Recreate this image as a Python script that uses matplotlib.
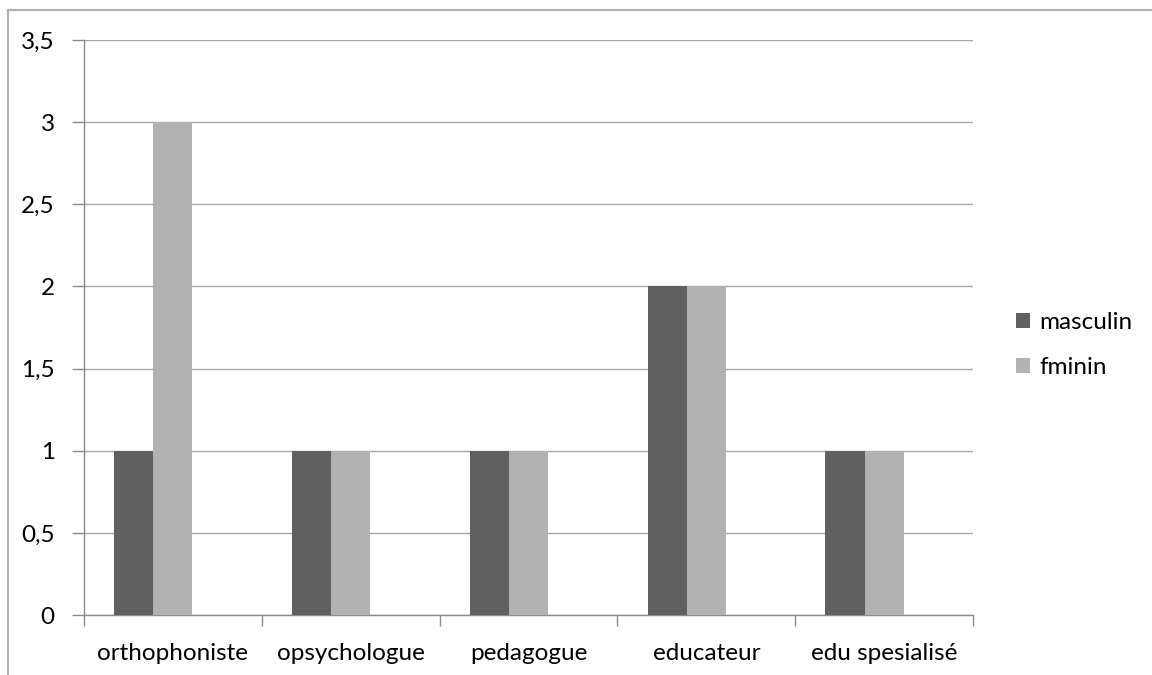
import matplotlib
matplotlib.use("Agg")
import matplotlib.pyplot as plt
from matplotlib.lines import Line2D
from matplotlib.patches import Patch
import numpy as np

categories = ["orthophoniste", "opsychologue", "pedagogue", "educateur", "edu spesialisé"]
masculin = [1, 1, 1, 2, 1]
fminin = [3, 1, 1, 2, 1]
series_names = ["masculin", "fminin"]
y_ticks = [0, 0.5, 1, 1.5, 2, 2.5, 3, 3.5]
y_tick_labels = ["0", "0,5", "1", "1,5", "2", "2,5", "3", "3,5"]

DARK = "#606060"
LIGHT = "#B2B2B2"
GRID = "#A6A6A6"
AXIS = "#8C8C8C"
FS = 17.5

plt.rcParams["font.family"] = ["Lato", "DejaVu Sans"]

fig = plt.figure(figsize=(11.52, 6.75), dpi=100)
ax = fig.add_axes([84 / 1152, 60 / 675, (973 - 84) / 1152, (615 - 40) / 675])

x = np.arange(len(categories))
w = 0.22
ax.bar(x - w, masculin, width=w, color=DARK, zorder=3)
ax.bar(x, fminin, width=w, color=LIGHT, zorder=3)

ax.set_xlim(-0.5, len(categories) - 0.5)
ax.set_ylim(0, 3.5)

ax.set_yticks(y_ticks)
ax.set_yticklabels(y_tick_labels)
ax.yaxis.grid(True, color=GRID, linewidth=1.0, zorder=0)
ax.set_axisbelow(True)

# category labels centred between boundary ticks
ax.set_xticks(np.arange(-0.5, len(categories), 1.0))
ax.set_xticklabels([])
ax.set_xticks(x, minor=True)
ax.set_xticklabels(categories, minor=True)
ax.tick_params(axis="x", which="minor", length=0, pad=20, labelsize=FS, colors="black")
ax.tick_params(axis="x", which="major", length=8, width=1, color=AXIS)
ax.tick_params(axis="y", length=9, width=1, color=AXIS, pad=12, labelsize=FS)

for side in ["top", "right"]:
    ax.spines[side].set_visible(False)
for side in ["left", "bottom"]:
    ax.spines[side].set_color(AXIS)
    ax.spines[side].set_linewidth(1)

handles = [Patch(facecolor=DARK, edgecolor="none"), Patch(facecolor=LIGHT, edgecolor="none")]
fig.legend(handles, series_names, loc="center left", bbox_to_anchor=(994 / 1152, 1 - 345 / 675),
           frameon=False, fontsize=FS, handlelength=0.6, handleheight=0.6,
           handletextpad=0.35, labelspacing=1.0)

# chart frame
fig.add_artist(Line2D([8 / 1152, 1.0], [1 - 9.5 / 675, 1 - 9.5 / 675], color="#B0B0B0", linewidth=1.5))
fig.add_artist(Line2D([8 / 1152, 8 / 1152], [0.0, 1 - 9.5 / 675], color="#B0B0B0", linewidth=1.5))

fig.savefig("out.png", dpi=100)
